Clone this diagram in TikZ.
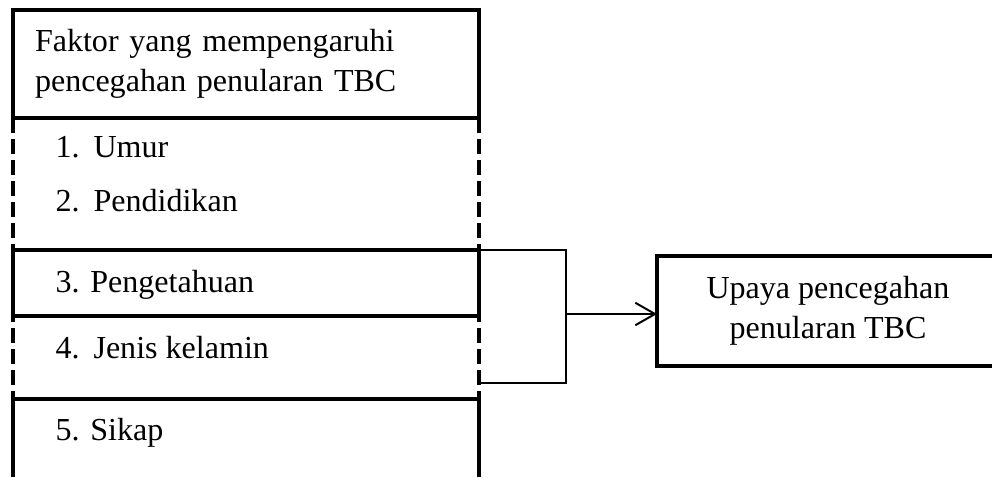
\documentclass[tikz,border=0pt]{standalone}
\usepackage{fontspec}
\setmainfont{Liberation Serif}
\usetikzlibrary{arrows.meta}

\tikzset{
    tebal/.style={draw, line width=1.5pt},
    putus/.style={line width=1.5pt, dash pattern=on 0.1875cm off 0.075cm},
    tipis/.style={line width=0.6pt},
    butir/.style={inner sep=0pt, anchor=base west},
    kotak/.style={tebal, outer sep=0pt},
    panah/.style={line width=0.7pt, -{Straight Barb[length=7pt, width=8pt]}}
}

\begin{document}
\begin{tikzpicture}[font=\fontsize{11.4pt}{14.4pt}\selectfont]
        \useasboundingbox (0, 0) rectangle (12.4, 5.9625);

        \draw[putus] (0.1625, 4.4875) -- (0.1625, 0)
            (5.9875, 4.4875) -- (5.9875, 0);
        \draw[tebal] (0.1625, 2.0125) rectangle (5.9875, 2.8375);
        \draw[tebal] (0.1625, 0) |- (5.9875, 0.975) -- (5.9875, 0);

        \node[kotak, anchor=north west, align=left, text width=5.275cm, inner xsep=0.275cm, minimum height=1.35cm] (faktor) at (0.1625, 5.8375) {Faktor yang mempengaruhi\\pencegahan penularan TBC};

        \node[butir] (umur) at (0.6875, 4.0) {\makebox[0.475cm][l]{1.}Umur};
        \node[butir] (didik) at (0.6875, 3.325) {\makebox[0.475cm][l]{2.}Pendidikan};
        \node[butir] (tahu) at (0.6875, 2.3125) {3. Pengetahuan};
        \node[butir] (kelamin) at (0.6875, 1.4875) {\makebox[0.475cm][l]{4.}Jenis kelamin};
        \node[butir] (sikap) at (0.6875, 0.4625) {5. Sikap};

        \node[kotak, align=center, minimum width=4.275cm, minimum height=1.375cm] (upaya) at (10.35, 2.075) {Upaya pencegahan\\penularan TBC};

        \coordinate (kurungatas) at (5.9875, 2.8375);
        \coordinate (kurungbawah) at (5.9875, 1.175);
        \coordinate (kurung) at (7.075, 2.0375);

        \draw[tipis] (kurungatas) -| (kurung) |- (kurungbawah);
        \draw[panah] (kurung) to (kurung -| upaya.west);
    \end{tikzpicture}
\end{document}
